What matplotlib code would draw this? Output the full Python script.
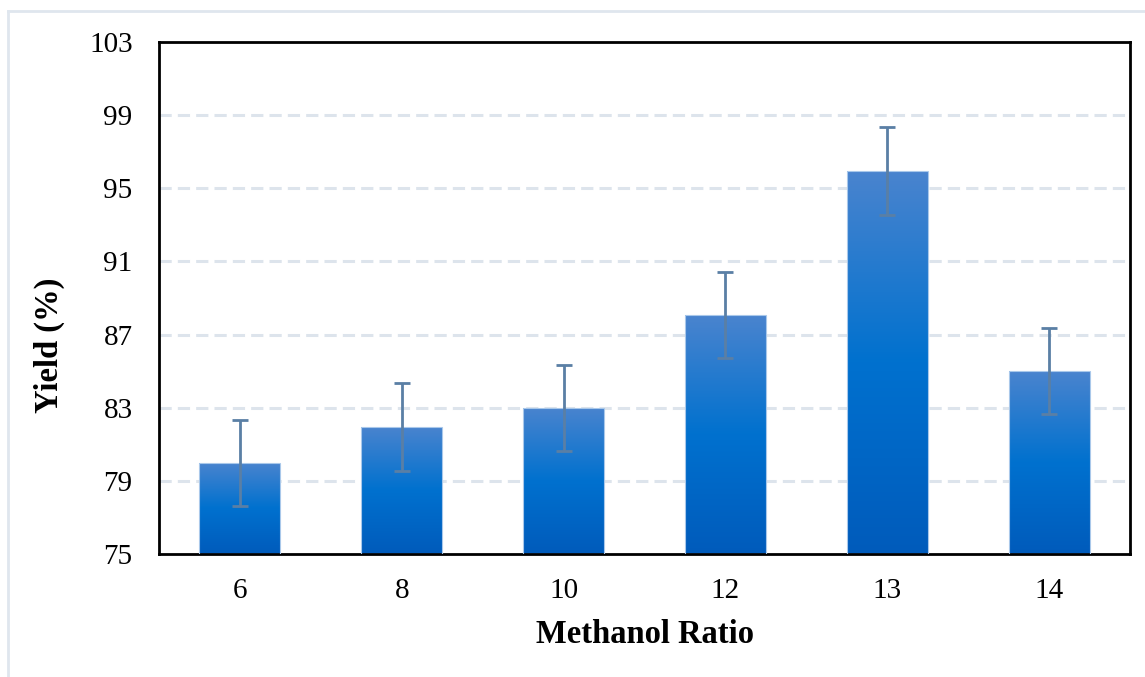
import numpy as np
import matplotlib.pyplot as plt
from matplotlib.colors import LinearSegmentedColormap
from matplotlib.lines import Line2D

# dados
razoes = ['6', '8', '10', '12', '13', '14']
rendimento = [80.0, 81.95, 83.0, 88.05, 95.95, 85.0]
erro = [2.35, 2.4, 2.35, 2.35, 2.4, 2.35]

y_min, y_max = 75, 103
y_ticks = [75, 79, 83, 87, 91, 95, 99, 103]

plt.rcParams['font.family'] = ['Liberation Serif', 'DejaVu Serif']

fig = plt.figure(figsize=(11.45, 6.77), dpi=100)
ax = fig.add_axes([159 / 1145, 1 - 554 / 677, (1130 - 159) / 1145, (554 - 42) / 677])

# degradê das barras (de baixo para cima)
cmap = LinearSegmentedColormap.from_list(
    'azul', [(0.0, '#005bbb'), (0.5, '#0071cf'), (1.0, '#4a84ce')])
grad = np.linspace(0, 1, 256).reshape(-1, 1)

x = np.arange(len(razoes))
largura = 0.5
barras = ax.bar(x, [v - y_min for v in rendimento], largura, bottom=y_min,
                color='none', edgecolor='#a9c8ea', linewidth=0.8, zorder=3)

for b in barras:
    x0, y0 = b.get_x(), b.get_y()
    w, h = b.get_width(), b.get_height()
    im = ax.imshow(grad, cmap=cmap, origin='lower', aspect='auto',
                   extent=(x0, x0 + w, y0, y0 + h), zorder=2)
    im.set_clip_path(b)

ax.errorbar(x, rendimento, yerr=erro, fmt='none', ecolor='#5a7fa5',
            elinewidth=2, capsize=6, capthick=2, zorder=4)

ax.set_xlim(-0.5, len(razoes) - 0.5)
ax.set_ylim(y_min, y_max)
ax.set_xticks(x)
ax.set_xticklabels(razoes)
ax.set_yticks(y_ticks)
ax.tick_params(axis='both', length=0, labelsize=21)
ax.tick_params(axis='x', pad=17)
ax.tick_params(axis='y', pad=19)

for v in y_ticks[1:-1]:
    ax.axhline(v, color='#dde4ec', lw=2.2, ls=(0, (4, 2)), zorder=1)

for s in ax.spines.values():
    s.set_linewidth(2)
    s.set_color('black')

ax.set_xlabel('Methanol Ratio', fontsize=23.5, fontweight='bold', labelpad=11)
ax.set_ylabel('Yield (%)', fontsize=23.5, fontweight='bold')
ax.yaxis.set_label_coords(-0.097, 0.408)

# moldura clara do quadro
fig.add_artist(Line2D([8 / 1145, 8 / 1145], [0, 1 - 11 / 677],
                      transform=fig.transFigure, color='#dfe6ee', lw=2))
fig.add_artist(Line2D([8 / 1145, 1], [1 - 11 / 677, 1 - 11 / 677],
                      transform=fig.transFigure, color='#dfe6ee', lw=2))

fig.savefig('out.png', dpi=100)
